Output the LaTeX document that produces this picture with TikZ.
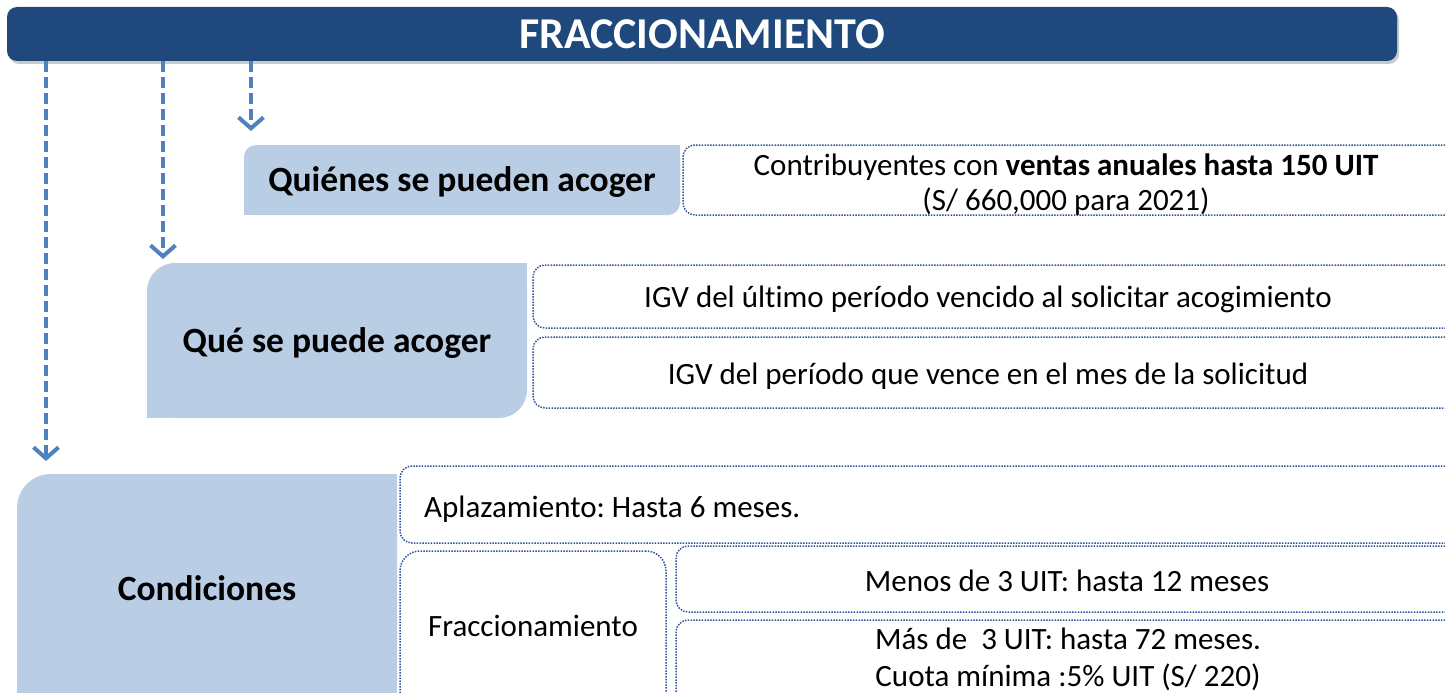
\documentclass[tikz,border=0pt]{standalone}
\usepackage{fontspec}
\setmainfont{Carlito}[Ligatures=NoCommon]
\usetikzlibrary{arrows.meta,backgrounds,shadows}
\definecolor{navy}{RGB}{31,73,125}
\definecolor{lblue}{RGB}{185,205,229}
\definecolor{ablue}{RGB}{79,129,189}
\definecolor{dotc}{RGB}{47,85,151}
\frenchspacing
\begin{document}
\begin{tikzpicture}[x=1pt,y=-1pt,
  titlebar/.style={fill=navy, rounded corners=10pt, inner sep=0pt, text=white,
    font=\fontsize{44}{48}\selectfont\bfseries,
    drop shadow={shadow xshift=2pt, shadow yshift=-3pt, opacity=0.35, fill=black!60}},
  lbox/.style={fill=lblue, draw=none, inner sep=0pt},
  dbox/.style={draw=dotc, line width=1.5pt, dash pattern=on 1.5pt off 1.3pt, rounded corners=12pt, inner sep=0pt},
  lbl/.style={font=\fontsize{35.5}{40}\selectfont\bfseries, inner sep=0pt},
  txt/.style={font=\fontsize{31}{35}\selectfont, inner sep=0pt, align=center},
  darr/.style={draw=ablue, line width=4pt, dash pattern=on 11pt off 5pt,
    -{Straight Barb[length=11pt,width=25pt,line width=4pt]}}
]
\useasboundingbox (0,0) rectangle (1445,693);

% title
\node[titlebar, minimum width=1390pt, minimum height=54pt] (title) at (702,34) {FRACCIONAMIENTO};

% arrows
\coordinate (a1) at (251,131);
\coordinate (a2) at (163,259);
\coordinate (a3) at (46,461);
\draw[darr] (title.south -| a1) -- (a1);
\draw[darr] (title.south -| a2) -- (a2);
\draw[darr] (title.south -| a3) -- (a3);

% Quienes
\node[lbox, rounded corners=12pt, minimum width=436pt, minimum height=70pt] (q1) at (462,180) {};
\fill[lblue] (q1.north east) rectangle ++(-14,14);
\fill[lblue] (q1.south west) rectangle ++(14,-14);
\node[lbl] (q1t) at (462,182) {Quiénes se pueden acoger};

\node[dbox, minimum width=777pt, minimum height=70pt] (c1) at (1071.5,180) {};
\node[txt] (c1t) at (1066,185) {Contribuyentes con \textbf{ventas anuales hasta 150 UIT}\\(S/ 660,000 para 2021)};

% Que
\node[lbox, rounded corners=28pt, minimum width=380pt, minimum height=155pt] (q2) at (337,340.5) {};
\fill[lblue] (q2.north east) rectangle ++(-30,30);
\fill[lblue] (q2.south west) rectangle ++(30,-30);
\node[lbl] (q2t) at (337,343) {Qué se puede acoger};

\node[dbox, minimum width=927pt, minimum height=63pt] (i1) at (996.5,296.5) {};
\node[txt] (i1t) at (988,299) {IGV del último período vencido al solicitar acogimiento};
\node[dbox, minimum width=927pt, minimum height=71pt] (i2) at (996.5,372.5) {};
\node[txt] (i2t) at (988,376) {IGV del período que vence en el mes de la solicitud};

% Condiciones
\node[lbox, rounded corners=34pt, minimum width=380pt, minimum height=250pt] (q3) at (207,599) {};
\fill[lblue] (q3.north east) rectangle ++(-36,36);
\fill[lblue] (q3.south west) rectangle ++(36,-36);
\node[lbl] (q3t) at (207,588) {Condiciones};

\node[dbox, minimum width=1060pt, minimum height=77pt] (ap) at (930,504.5) {};
\node[txt, anchor=west] (apt) at (424,509) {Aplazamiento: Hasta 6 meses.};

\node[dbox, rounded corners=20pt, minimum width=266pt, minimum height=180pt] (fr) at (533,641) {};
\node[txt] (frt) at (533,626) {Fraccionamiento};

\node[dbox, minimum width=784pt, minimum height=66pt] (me) at (1068,579) {};
\node[txt] (met) at (1067,581) {Menos de 3 UIT: hasta 12 meses};

\node[dbox, minimum width=784pt, minimum height=110pt] (ma) at (1068,675) {};
\node[txt, font=\fontsize{31}{37}\selectfont] (mat) at (1068,659.5) {Más de\ \ 3 UIT: hasta 72 meses.\\Cuota mínima :5\% UIT (S/ 220)};
\end{tikzpicture}
\end{document}
